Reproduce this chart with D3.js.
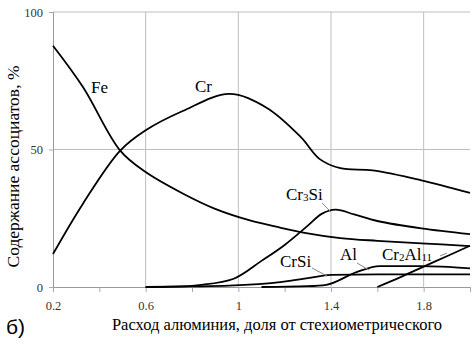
<!DOCTYPE html>
<html>
<head>
<meta charset="utf-8">
<script src="https://cdn.jsdelivr.net/npm/d3@7"></script>
<style>
  body { margin: 0; background: #fff; }
</style>
</head>
<body>
<div id="chart"></div>
<script>
// data: [x, %]
const fe = [[0.2, 87.7], [0.33, 72.6], [0.49, 49.6], [0.6, 41.8], [0.76, 34], [0.9, 28.4], [1.05, 24.2],
    [1.18, 21.6], [1.28, 19.8], [1.44, 17.8], [1.6, 16.8], [1.79, 15.9], [2.0, 14.9]];
const cr = [[0.2, 12], [0.33, 30.4], [0.49, 49.6], [0.6, 57], [0.76, 64], [0.96, 70.2], [1.12, 65.3],
    [1.27, 54.5], [1.35, 46.6], [1.44, 43.2], [1.58, 42.4], [1.79, 38.8], [2.0, 34.2]];
const cr3si = [[0.6, 0], [0.72, 0.1], [0.83, 0.7], [0.98, 3], [1.1, 9.5], [1.2, 15.3], [1.3, 22.3],
    [1.36, 26.6], [1.42, 28.1], [1.5, 26.4], [1.6, 24], [1.79, 21.3], [2.0, 19.2]];
const crsi = [[0.6, 0], [0.8, 0.2], [0.96, 0.5], [1.19, 1.9], [1.3, 3.2], [1.4, 4.4], [1.6, 4.6], [2.0, 4.6]];
const al = [[1.1, 0], [1.3, 0.3], [1.38, 0.8], [1.51, 5.4], [1.61, 7.6], [1.79, 7.6], [2.0, 6.8]];
const cr2al11 = [[1.6, 0], [1.7, 3.6], [1.8, 7.4], [1.9, 11.2], [2.0, 15]];

const xTicks = [0.2, 0.4, 0.6, 0.8, 1.0, 1.2, 1.4, 1.6, 1.8, 2.0];
const xLabels = [0.2, 0.6, 1.0, 1.4, 1.8];
const yTicks = [0, 50, 100];

const width = 475, height = 349;
const margin = { top: 12, right: 5, bottom: 62, left: 53 };
const serif = '"Liberation Serif"';

const svg = d3.select("#chart").append("svg")
    .attr("width", width)
    .attr("height", height);

const x = d3.scaleLinear().domain([0.2, 2.0]).range([margin.left, width - margin.right]);
const y = d3.scaleLinear().domain([0, 100]).range([height - margin.bottom, margin.top]);

// gridlines
svg.append("g").selectAll("line")
    .data(xLabels.slice(1))
    .enter().append("line")
    .attr("x1", d => x(d)).attr("x2", d => x(d))
    .attr("y1", y(100)).attr("y2", y(0))
    .attr("stroke", "#bdbdbd").attr("stroke-width", 1);

svg.append("g").selectAll("line")
    .data(yTicks.slice(1))
    .enter().append("line")
    .attr("x1", x(0.2)).attr("x2", x(2.0))
    .attr("y1", d => y(d)).attr("y2", d => y(d))
    .attr("stroke", "#bdbdbd").attr("stroke-width", 1);

// x axis
const xAxis = svg.append("g")
    .attr("transform", `translate(0,${y(0)})`)
    .call(d3.axisBottom(x).tickValues(xTicks).tickSize(5)
        .tickFormat(d => xLabels.some(v => Math.abs(v - d) < 1e-9) ? d3.format("~g")(d) : ""));
xAxis.attr("font-family", null);
xAxis.select(".domain").attr("stroke", "#999");
xAxis.selectAll(".tick line").attr("stroke", "#aaa");
xAxis.selectAll("text")
    .style("font-family", serif).style("font-size", "12.5px")
    .attr("fill", "#333").attr("dy", "1.2em");

// y axis
const yAxis = svg.append("g")
    .attr("transform", `translate(${x(0.2)},0)`)
    .call(d3.axisLeft(y).tickValues(yTicks).tickSize(4));
yAxis.attr("font-family", null);
yAxis.select(".domain").attr("stroke", "#999");
yAxis.selectAll(".tick line").attr("stroke", "#aaa");
yAxis.selectAll("text")
    .style("font-family", serif).style("font-size", "12.5px")
    .attr("fill", "#333").attr("x", -10);

// curves
const smooth = d3.line()
    .x(d => x(d[0]))
    .y(d => y(d[1]))
    .curve(d3.curveCatmullRom.alpha(0.5));
const flat = d3.line()
    .x(d => x(d[0]))
    .y(d => y(d[1]))
    .curve(d3.curveMonotoneX);

[[fe, smooth], [cr, smooth], [cr3si, smooth], [crsi, flat], [al, flat], [cr2al11, flat]].forEach(s => {
    svg.append("path")
        .datum(s[0])
        .attr("d", s[1])
        .attr("fill", "none")
        .attr("stroke", "#000")
        .attr("stroke-width", 1.8);
});

// curve labels
function label(parts, px, py) {
    const t = svg.append("text")
        .attr("x", px).attr("y", py)
        .style("font-family", serif)
        .style("font-size", "17px")
        .attr("fill", "#000");
    parts.forEach(p => {
        const s = t.append("tspan").text(p[0]);
        if (p[1]) s.style("font-size", "11px").attr("dy", 1);
        else if (p[2]) s.attr("dy", -1);
    });
}
label([["Fe"]], 91, 93);
label([["Cr"]], 195, 92);
label([["Cr"], ["3", true], ["Si", false, true]], 286, 200);
label([["CrSi"]], 280, 267);
label([["Al"]], 340, 260);
label([["Cr"], ["2", true], ["Al", false, true], ["11", true]], 382, 260);

// leader lines
const leaders = [
    [[322, 203], [331, 212]],
    [[312, 268], [327, 276]],
    [[357, 263], [369, 270]],
    [[440, 256], [447, 253]]
];
leaders.forEach(l => {
    svg.append("line")
        .attr("x1", l[0][0]).attr("y1", l[0][1])
        .attr("x2", l[1][0]).attr("y2", l[1][1])
        .attr("stroke", "#888").attr("stroke-width", 1);
});

// axis titles
svg.append("text")
    .attr("x", 277).attr("y", 330)
    .attr("text-anchor", "middle")
    .style("font-family", serif)
    .style("font-size", "16.5px")
    .text("Расход алюминия, доля от стехиометрического");

svg.append("text")
    .attr("transform", `translate(19,${y(50) + 17}) rotate(-90)`)
    .attr("text-anchor", "middle")
    .style("font-family", serif)
    .style("font-size", "17.5px")
    .text("Содержание ассоциатов, %");

svg.append("text")
    .attr("x", 6).attr("y", 334)
    .style("font-family", '"Liberation Sans"')
    .style("font-size", "21px")
    .text("б)");
</script>
</body>
</html>
